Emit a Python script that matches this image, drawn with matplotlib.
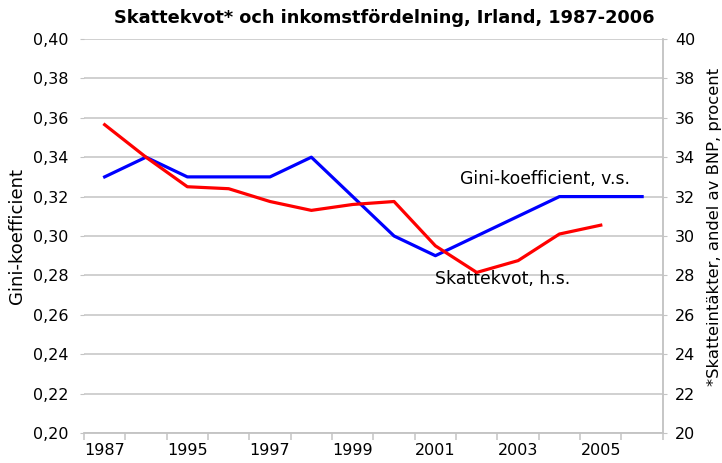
import matplotlib
matplotlib.use("Agg")
import matplotlib.pyplot as plt
from matplotlib.ticker import FuncFormatter

# data
years = ["1987", "1994", "1995", "1996", "1997", "1998", "1999",
         "2000", "2001", "2002", "2003", "2004", "2005", "2006"]
gini = [0.33, 0.34, 0.33, 0.33, 0.33, 0.34, 0.32,
        0.30, 0.29, 0.30, 0.31, 0.32, 0.32, 0.32]
skattekvot = [35.65, 34.0, 32.5, 32.4, 31.75, 31.3, 31.6,
              31.75, 29.5, 28.15, 28.75, 30.1, 30.55, None]
gini_ticks = [0.20, 0.22, 0.24, 0.26, 0.28, 0.30, 0.32, 0.34, 0.36, 0.38, 0.40]
tax_ticks = [20, 22, 24, 26, 28, 30, 32, 34, 36, 38, 40]

grid_col = "#c4c4c4"
fs = 11.5

fig = plt.figure(figsize=(7.22, 4.63), dpi=100)
ax = fig.add_axes([0.1163, 0.0648, 0.8017, 0.851])
ax2 = ax.twinx()

x = list(range(len(years)))
ax.plot(x, gini, color="#0000ff", lw=2.3, zorder=3)
tx = [i for i, v in zip(x, skattekvot) if v is not None]
tv = [v for v in skattekvot if v is not None]
ax2.plot(tx, tv, color="#ff0000", lw=2.3, zorder=3)

ax.set_xlim(-0.5, len(years) - 0.5)
ax.set_ylim(0.20, 0.40)
ax2.set_ylim(20, 40)

# grid
ax.set_yticks(gini_ticks)
ax.yaxis.set_major_formatter(FuncFormatter(lambda v, p: f"{v:.2f}".replace(".", ",")))
ax.grid(axis="y", color=grid_col, lw=1.1)
ax.set_axisbelow(True)
ax2.set_yticks(tax_ticks)

# x ticks: marks on category borders, labels every other year
ax.set_xticks([i - 0.5 for i in range(len(years) + 1)])
ax.set_xticklabels([])
ax.set_xticks(x, minor=True)
ax.set_xticklabels([y if i % 2 == 0 else "" for i, y in enumerate(years)], minor=True)
ax.tick_params(axis="x", which="major", length=5, color=grid_col, width=1.1)
ax.tick_params(axis="x", which="minor", length=0, pad=7, labelsize=fs)
ax.tick_params(axis="y", length=3, color=grid_col, labelsize=fs, pad=8)
ax2.tick_params(axis="y", length=3, color=grid_col, labelsize=fs, pad=6)

for a in (ax, ax2):
    a.spines["top"].set_visible(False)
    a.spines["left"].set_visible(False)
    a.spines["bottom"].set_color(grid_col)
    a.spines["right"].set_color(grid_col)
    a.spines["bottom"].set_linewidth(1.1)
    a.spines["right"].set_linewidth(1.1)

ax.set_ylabel("Gini-koefficient", fontsize=13, labelpad=5)
ax2.set_ylabel("*Skatteintäkter, andel av BNP, procent", fontsize=11.8, labelpad=8)
ax2.yaxis.label.set_y(0.523)

ax.text(10.66, 0.329, "Gini-koefficient, v.s.", fontsize=12.4, ha="center", va="center")
ax.text(9.62, 0.2782, "Skattekvot, h.s.", fontsize=12.4, ha="center", va="center")

fig.text(0.532, 0.962, "Skattekvot* och inkomstfördelning, Irland, 1987-2006",
         fontsize=12.8, fontweight="bold", ha="center", va="center")

fig.savefig("out.png", dpi=100)
